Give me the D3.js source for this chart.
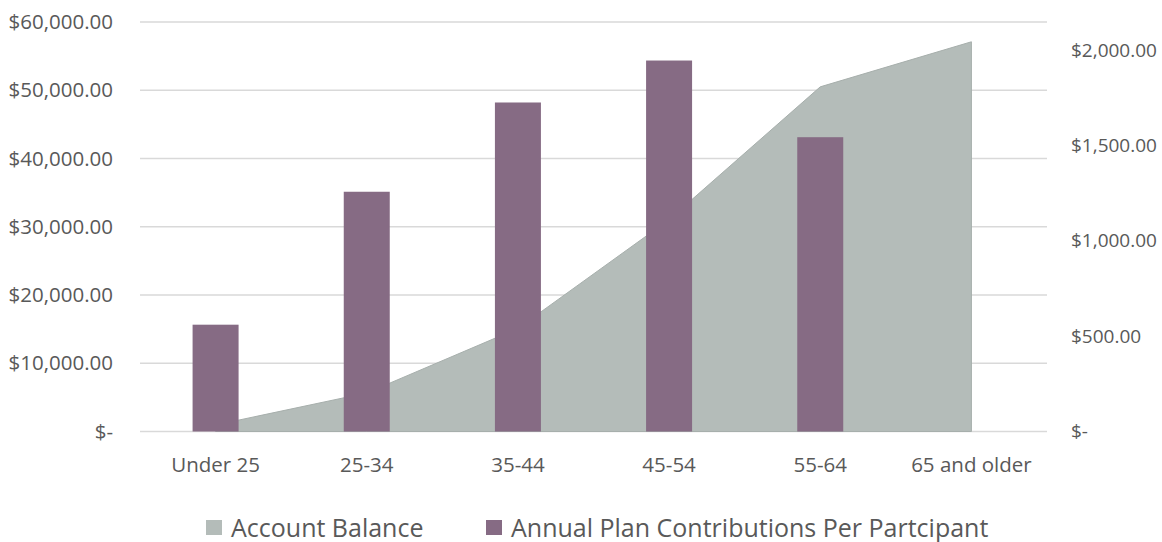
<!DOCTYPE html>
<html>
<head>
<meta charset="utf-8">
<script src="https://cdn.jsdelivr.net/npm/d3@7"></script>
<style>
  body { margin: 0; background: #fff; }
  svg text { font-family: "Open Sans", sans-serif; fill: #595959; }
</style>
</head>
<body>
<svg id="chart" width="1162" height="542"></svg>
<script>
// Data
const ageGroups = ["Under 25", "25-34", "35-44", "45-54", "55-64", "65 and older"];
const accountBalance = [950, 5650, 15100, 31050, 50500, 57100];
const contributions = [560, 1257, 1725, 1945, 1543, null];
const leftTicks = [0, 10000, 20000, 30000, 40000, 50000, 60000];
const rightTicks = [0, 500, 1000, 1500, 2000];
const seriesNames = ["Account Balance", "Annual Plan Contributions Per Partcipant"];

var margin = { top: 22, right: 115, bottom: 110.5, left: 140 };
var width = 1162 - margin.left - margin.right;
var height = 542 - margin.top - margin.bottom;

const svg = d3.select("#chart")
    .append("g")
    .attr("transform", "translate(" + margin.left + "," + margin.top + ")");

// Scales
var x = d3.scaleBand()
    .domain(ageGroups)
    .range([0, width]);

var yLeft = d3.scaleLinear()
    .domain([0, 60000])
    .range([height, 0]);

var yRight = d3.scaleLinear()
    .domain([0, 2147])
    .range([height, 0]);

const money = v => v === 0 ? "$-" : "$" + d3.format(",.2f")(v);

// Gridlines
svg.selectAll(".grid")
    .data(leftTicks)
    .enter()
    .append("line")
    .attr("x1", 0)
    .attr("x2", width)
    .attr("y1", d => yLeft(d))
    .attr("y2", d => yLeft(d))
    .attr("stroke", "#d9d9d9")
    .attr("stroke-width", 1.3);

// Area (account balance, left axis)
const area = d3.area()
    .x((d, i) => x(ageGroups[i]) + x.bandwidth() / 2)
    .y0(height)
    .y1(d => yLeft(d));

svg.append("path")
    .datum(accountBalance)
    .attr("d", area)
    .attr("fill", "#b4bcb9")
    .attr("stroke", "#a7afac")
    .attr("stroke-width", 1);

// Bars (contributions, right axis)
const barW = 46;
svg.selectAll(".bar")
    .data(contributions.map((v, i) => ({ group: ageGroups[i], value: v })).filter(d => d.value != null))
    .enter()
    .append("rect")
    .attr("class", "bar")
    .attr("x", d => x(d.group) + x.bandwidth() / 2 - barW / 2)
    .attr("y", d => yRight(d.value))
    .attr("width", barW)
    .attr("height", d => height - yRight(d.value))
    .attr("fill", "#866b84");

function styleAxis(g, size) {
    g.select(".domain").remove();
    g.selectAll("text")
        .attr("font-size", size)
        .style("font-family", "'Open Sans', sans-serif")
        .attr("fill", "#595959");
}

// Left axis
svg.append("g")
    .call(d3.axisLeft(yLeft).tickValues(leftTicks).tickFormat(money).tickSize(0).tickPadding(27))
    .call(styleAxis, 20.5);

// Right axis (slightly smaller so labels stay inside the frame)
svg.append("g")
    .attr("transform", "translate(" + width + ",0)")
    .call(d3.axisRight(yRight).tickValues(rightTicks).tickFormat(money).tickSize(0).tickPadding(24))
    .call(styleAxis, 19);

// Bottom axis
svg.append("g")
    .attr("transform", "translate(0," + height + ")")
    .call(d3.axisBottom(x).tickSize(0).tickPadding(26))
    .call(styleAxis, 20.5);

// Legend
const legendColors = ["#b4bcb9", "#866b84"];
const legendX = [206, 486];
const legend = svg.append("g")
    .attr("transform", "translate(" + (-margin.left) + "," + (-margin.top) + ")");
seriesNames.forEach((name, i) => {
    legend.append("rect")
        .attr("x", legendX[i])
        .attr("y", 520)
        .attr("width", 16)
        .attr("height", 15)
        .attr("fill", legendColors[i]);
    legend.append("text")
        .attr("x", legendX[i] + 25)
        .attr("y", 536.5)
        .attr("font-size", 25)
        .text(name);
});
</script>
</body>
</html>
